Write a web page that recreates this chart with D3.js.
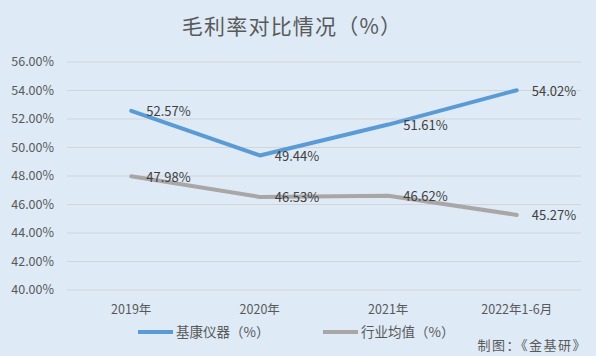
<!DOCTYPE html>
<html><head><meta charset="utf-8">
<script src="https://cdn.jsdelivr.net/npm/d3@7"></script>
<style>body{margin:0;background:#deeaf6;}svg{display:block;font-family:"Noto Sans CJK SC","Noto Sans",sans-serif;}</style>
</head><body><svg id="c" width="596" height="356"></svg>
<script>
const categories = ["2019年","2020年","2021年","2022年1-6月"];
const seriesNames = ["基康仪器（%）","行业均值（%）"];
const jikang = [52.57,49.44,51.61,54.02];
const industry = [47.98,46.53,46.62,45.27];
const yTicks = [40,42,44,46,48,50,52,54,56];
const colors = ["#5b9bd5","#a9a6a6"];

const svg = d3.select("#c");
svg.append("rect").attr("width",596).attr("height",356).attr("fill","#deeaf6");
const x = d3.scaleBand().domain(categories).range([67,581]);
const y = d3.scaleLinear().domain([40,56]).range([290,62]);
const cx = d => x(d)+x.bandwidth()/2;

svg.append("text").attr("x",292).attr("y",27).attr("dy","0.35em").attr("text-anchor","middle")
  .attr("font-size",21).attr("letter-spacing",1.2).attr("fill","#595959").text("毛利率对比情况（%）");

const g = svg.append("g");
g.selectAll("line.grid").data(yTicks).join("line").attr("class","grid")
  .attr("x1",67).attr("x2",581).attr("y1",d=>y(d)).attr("y2",d=>y(d))
  .attr("stroke","#d4d4d4").attr("stroke-width",1);
g.selectAll("text.yt").data(yTicks).join("text").attr("class","yt")
  .attr("x",54).attr("y",d=>y(d)).attr("dy","0.35em").attr("text-anchor","end")
  .attr("font-size",12.5).attr("fill","#595959").text(d=>d.toFixed(2)+"%");
g.selectAll("text.xt").data(categories).join("text").attr("class","xt")
  .attr("x",d=>cx(d)).attr("y",310).attr("dy","0.35em").attr("text-anchor","middle")
  .attr("font-size",12.5).attr("fill","#595959").text(d=>d);

const line = d3.line().x((d,i)=>cx(categories[i])).y(d=>y(d));
[jikang,industry].forEach((s,k)=>{
  svg.append("path").attr("d",line(s)).attr("fill","none").attr("stroke",colors[k])
    .attr("stroke-width",4).attr("stroke-linecap","round").attr("stroke-linejoin","round");
  svg.selectAll(null).data(s).join("text")
    .attr("x",(d,i)=>cx(categories[i])+15).attr("y",d=>y(d)+1).attr("dy","0.35em")
    .attr("font-size",13).attr("fill","#404040").text(d=>d.toFixed(2)+"%");
});

const legX = [138,323];
seriesNames.forEach((n,k)=>{
  svg.append("line").attr("x1",legX[k]).attr("x2",legX[k]+35).attr("y1",332).attr("y2",332)
    .attr("stroke",colors[k]).attr("stroke-width",4);
  svg.append("text").attr("x",legX[k]+38).attr("y",332).attr("dy","0.35em")
    .attr("font-size",13.5).attr("fill","#595959").text(n);
});
svg.append("text").attr("x",587).attr("y",345).attr("dy","0.35em").attr("text-anchor","end")
  .attr("font-size",13).attr("letter-spacing",1.5).attr("fill","#595959").text("制图：《金基研》");
</script></body></html>
